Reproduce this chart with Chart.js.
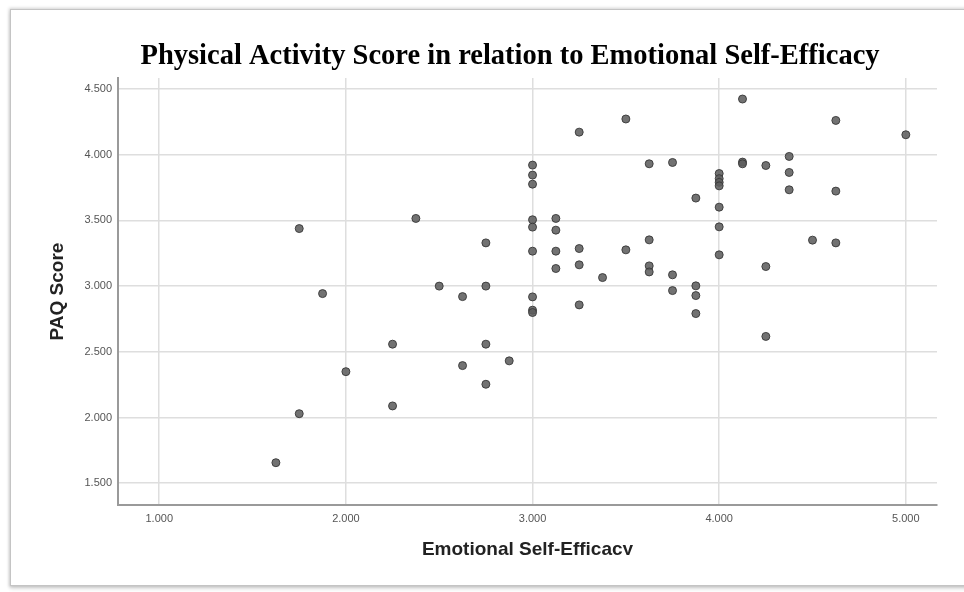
<!DOCTYPE html>
<html>
<head>
<meta charset="utf-8">
<script src="https://cdn.jsdelivr.net/npm/chart.js@4.4.1/dist/chart.umd.min.js"></script>
<style>
  html, body { margin: 0; padding: 0; background: #fff; overflow: hidden; }
  #clip { position: absolute; left: 0; top: 0; width: 964px; height: 555px; overflow: hidden; }
  #box { width: 964px; height: 592px; }
  #frame {
    position: absolute; left: 10px; top: 9px; width: 980px; height: 575px;
    border: 1px solid #c4c4c4;
    box-shadow: 0 0 3px 1px rgba(0,0,0,0.18), 0 3px 4px rgba(0,0,0,0.12);
    pointer-events: none;
  }
</style>
</head>
<body>
<div id="clip"><div id="box"><canvas id="paqChart"></canvas></div></div>
<div id="frame"></div>
<script>
// Emotional self-efficacy (x) vs PAQ score (y), one entry per participant
const selfEfficacy = [
  1.625, 1.75, 1.75, 1.875, 2.0, 2.25, 2.25, 2.375, 2.5, 2.625, 2.625,
  2.75, 2.75, 2.75, 2.75, 2.875,
  3.0, 3.0, 3.0, 3.0, 3.0, 3.0, 3.0, 3.0, 3.0,
  3.125, 3.125, 3.125, 3.125,
  3.25, 3.25, 3.25, 3.25, 3.375, 3.5, 3.5,
  3.625, 3.625, 3.625, 3.625, 3.75, 3.75, 3.75,
  3.875, 3.875, 3.875, 3.875,
  4.0, 4.0, 4.0, 4.0, 4.0, 4.0, 4.0,
  4.125, 4.125, 4.125, 4.25, 4.25, 4.25,
  4.375, 4.375, 4.375, 4.5, 4.625, 4.625, 4.625, 5.0
];
const paqScore = [
  1.656, 3.438, 2.029, 2.943, 2.349, 2.558, 2.088, 3.515, 3.0, 2.92, 2.395,
  3.329, 3.0, 2.558, 2.253, 2.431,
  3.921, 3.845, 3.776, 3.505, 3.449, 3.266, 2.918, 2.817, 2.799,
  3.515, 3.426, 3.266, 3.134,
  4.172, 3.286, 3.162, 2.857, 3.065, 4.272, 3.276,
  3.931, 3.352, 3.154, 3.108, 3.941, 3.086, 2.966,
  3.670, 3.002, 2.928, 2.791,
  3.857, 3.818, 3.790, 3.763, 3.601, 3.451, 3.238,
  4.424, 3.944, 3.931, 3.918, 3.149, 2.617,
  3.987, 3.865, 3.733, 3.350, 4.261, 3.723, 3.329, 4.152
];
const xTicks = [1, 2, 3, 4, 5];
const yTicks = [1.5, 2, 2.5, 3, 3.5, 4, 4.5];

const titleText = 'Physical Activity Score in relation to Emotional Self-Efficacy';

// title drawn by hand so it can sit where the original had it
const titlePlugin = {
  id: 'chartTitle',
  afterDraw(chart) {
    const c = chart.ctx;
    c.save();
    c.font = 'bold 28.5px "Liberation Serif"';
    c.fillStyle = '#000';
    c.textAlign = 'center';
    c.textBaseline = 'middle';
    c.fillText(titleText, 510, 57);
    c.restore();
  }
};

const tickFont = { family: '"Liberation Sans", Arial, sans-serif', size: 11 };
const axisTitleFont = { family: '"Liberation Sans", Arial, sans-serif', size: 19, weight: 'bold' };

const ctx = document.getElementById('paqChart');
new Chart(ctx, {
  type: 'scatter',
  data: {
    datasets: [{
      label: 'PAQ Score',
      data: selfEfficacy.map((x, i) => ({ x: x, y: paqScore[i] })),
      backgroundColor: 'rgba(95,95,95,0.88)',
      borderColor: 'rgba(55,55,55,0.9)',
      borderWidth: 1,
      pointRadius: 4
    }]
  },
  options: {
    responsive: true,
    maintainAspectRatio: false,
    animation: false,
    layout: { padding: { left: 0, right: 27, top: 78, bottom: 0 } },
    plugins: {
      legend: { display: false },
      tooltip: { enabled: false }
    },
    scales: {
      x: {
        type: 'linear',
        min: 0.779,
        max: 5.167,
        afterBuildTicks: s => { s.ticks = xTicks.map(v => ({ value: v })); },
        afterFit: s => { s.height = 87; },
        ticks: { callback: v => v.toFixed(3), color: '#555', font: tickFont, padding: 7 },
        grid: { color: '#dedede', lineWidth: 1.5, drawTicks: false },
        border: { color: '#9a9a9a', width: 2 },
        title: { display: true, text: 'Emotional Self-Efficacy', color: '#222', font: axisTitleFont, padding: { top: 0, bottom: 31 } }
      },
      y: {
        type: 'linear',
        min: 1.334,
        max: 4.584,
        afterBuildTicks: s => { s.ticks = yTicks.map(v => ({ value: v })); },
        afterFit: s => { s.width = 118; },
        ticks: { callback: v => v.toFixed(3), color: '#555', font: tickFont, padding: 6 },
        grid: { color: '#dedede', lineWidth: 1.5, drawTicks: false },
        border: { color: '#9a9a9a', width: 2 },
        title: { display: true, text: 'PAQ Score', color: '#222', font: axisTitleFont, padding: { top: 46, bottom: 0 } }
      }
    }
  },
  plugins: [titlePlugin]
});
</script>
</body>
</html>
